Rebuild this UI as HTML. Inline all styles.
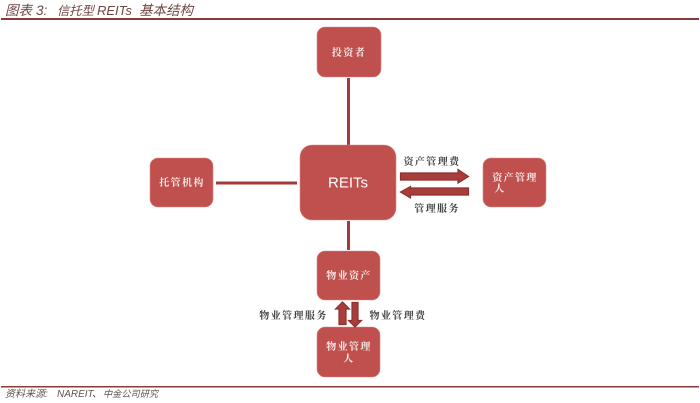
<!DOCTYPE html>
<html><head><meta charset="utf-8">
<style>
html,body{margin:0;padding:0;background:#fff;}
svg{display:block;}
.n{font-family:"Noto Serif CJK SC",serif;font-size:10px;fill:#f8eceb;text-anchor:middle;letter-spacing:1.4px;font-weight:700;}
.l{font-family:"Noto Serif CJK SC",serif;font-size:10px;fill:#3f3f3f;text-anchor:middle;letter-spacing:1.4px;font-weight:700;}
.h{font-family:"Liberation Sans","Noto Sans CJK SC",sans-serif;font-size:13.5px;font-style:italic;fill:#6f4644;}
.f{font-family:"Liberation Sans","Noto Sans CJK SC",sans-serif;font-size:10px;font-style:italic;fill:#5f5351;}
.a{fill:#a83e3c;stroke:#8f2f2d;stroke-width:1.200;}
</style></head>
<body>
<svg width="700" height="403" viewBox="0 0 700 403" xmlns="http://www.w3.org/2000/svg">
<rect width="700" height="403" fill="#fff"/>
<text class="h" x="5" y="15">图表</text>
<text class="h" x="36" y="15">3:</text>
<text class="h" x="57" y="15" style="font-size:12.3px">信托型</text>
<text class="h" x="97" y="15" style="font-size:13px">REITs</text>
<text class="h" x="139" y="15">基本结构</text>
<rect x="1" y="18" width="698" height="2" fill="#8a3a38"/>

<rect x="347" y="78" width="3" height="67" fill="#a33a38"/>
<rect x="216" y="181.500" width="81" height="3" fill="#a33a38"/>
<rect x="347" y="221" width="3" height="29" fill="#a33a38"/>

<rect x="317" y="27" width="64" height="50" rx="8" fill="#c0504d" stroke="#d98a88" stroke-width="0.600"/>
<rect x="150" y="158" width="63" height="49" rx="8" fill="#c0504d" stroke="#d98a88" stroke-width="0.600"/>
<rect x="300" y="145" width="96" height="75" rx="12" fill="#c0504d" stroke="#d98a88" stroke-width="0.600"/>
<rect x="483" y="158" width="63" height="49" rx="8" fill="#c0504d" stroke="#d98a88" stroke-width="0.600"/>
<rect x="317" y="251" width="63" height="49" rx="8" fill="#c0504d" stroke="#d98a88" stroke-width="0.600"/>
<rect x="317" y="327" width="63" height="50" rx="8" fill="#c0504d" stroke="#d98a88" stroke-width="0.600"/>

<text class="n" x="349" y="56">投资者</text>
<text class="n" x="182" y="186">托管机构</text>
<text x="348" y="187.500" font-size="15" fill="#fff" text-anchor="middle" style='font-family:"Liberation Sans",sans-serif'>REITs</text>
<text class="n" x="515" y="181">资产管理</text>
<text class="n" x="500" y="192">人</text>
<text class="n" x="349" y="279">物业资产</text>
<text class="n" x="349" y="350">物业管理</text>
<text class="n" x="349" y="362">人</text>

<polygon class="a" points="400.500,173 458,173 458,169.500 468.500,176.500 458,183 458,180 400.500,180"/>
<polygon class="a" points="468.500,188 410.500,188 410.500,186.500 400.500,192 410.500,198 410.500,195 468.500,195"/>
<polygon class="a" points="339,324.500 339,309 335.500,309 342.500,302 349.500,309 346,309 346,324.500"/>
<polygon class="a" points="352,302.500 358,302.500 358,320.500 361.500,320.500 355,327 348.500,320.500 352,320.500"/>

<text class="l" x="432" y="165">资产管理费</text>
<text class="l" x="437" y="212">管理服务</text>
<text class="l" x="293.500" y="319">物业管理服务</text>
<text class="l" x="398" y="319">物业管理费</text>

<rect x="1" y="386" width="698" height="1.500" fill="#8a3a38"/>
<text class="f" x="5" y="397">资料来源:</text>
<text class="f" x="57" y="397">NAREIT</text>
<text class="f" x="92" y="397">、</text>
<text class="f" x="103" y="397" style="font-size:9.200px">中金公司研究</text>
</svg>
</body></html>
